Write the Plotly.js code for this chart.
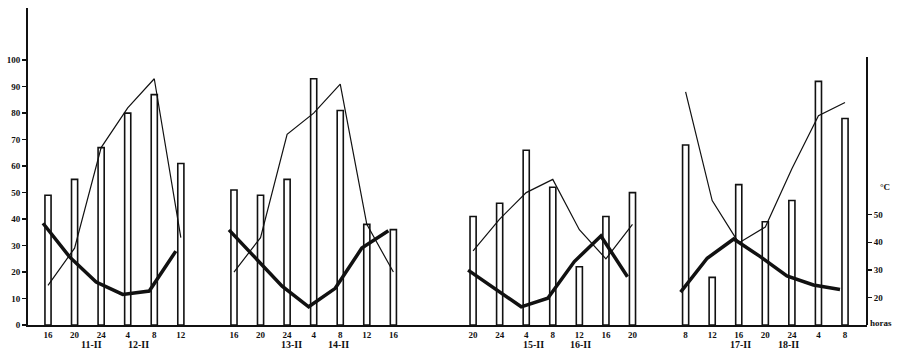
<!DOCTYPE html>
<html>
<head>
<meta charset="utf-8">
<script src="https://cdn.plot.ly/plotly-3.0.1.min.js"></script>
<style>html,body{margin:0;padding:0;background:#fff;}#chart{width:900px;height:358px;}</style>
</head>
<body>
<div id="chart"></div>
<script>
// Hours of each observation series (groups separated by gaps on the axis)
const hours1 = [16, 20, 24, 4, 8, 12];
const hours2 = [16, 20, 24, 4, 8, 12, 16];
const hours3 = [20, 24, 4, 8, 12, 16, 20];
const hours4 = [8, 12, 16, 20, 24, 4, 8];

// Bars (left scale)
const bars1 = [49, 55, 67, 80, 87, 61];
const bars2 = [51, 49, 55, 93, 81, 38, 36];
const bars3 = [41, 46, 66, 52, 22, 41, 50];
const bars4 = [68, 18, 53, 39, 47, 92, 78];

// Thin line (left scale)
const thin1 = [15, 29, 67, 82, 93, 33];
const thin2 = [20, 33, 72, 80, 91, 38, 20];
const thin3 = [28, 40, 50, 55, 36, 25, 38];
const thin4 = [88, 47, 31, 37, 59, 79, 84];

// Thick line (right scale, °C)
const thick1 = [46.9, 34.7, 25.6, 21.1, 22.3, 36.8];
const thick2 = [44.5, 34.3, 24.1, 16.6, 23.3, 37.9, 44.2];
const thick3 = [29.9, 23.2, 16.6, 19.7, 33.0, 42.3, 27.5];
const thick4 = [21.9, 34.2, 41.2, 34.8, 27.8, 24.5, 22.9];

// Date labels
const dateLabels = ['11-II', '12-II', '13-II', '14-II', '15-II', '16-II', '17-II', '18-II'];
const leftTicks = [0, 10, 20, 30, 40, 50, 60, 70, 80, 90, 100];
const rightTicks = [20, 30, 40, 50];

// ---- layout helpers ----
const groups = [
  {h: hours1, b: bars1, t: thin1, k: thick1},
  {h: hours2, b: bars2, t: thin2, k: thick2},
  {h: hours3, b: bars3, t: thin3, k: thick3},
  {h: hours4, b: bars4, t: thin4, k: thick4}
];
const gapAfter = [1, 2, 1, 0];   // empty slots between groups

let slot = 0;
const bx = [], by = [], lx = [], ly = [], kx = [], ky = [], tickv = [], tickt = [];
const groupStart = [];
groups.forEach((g, gi) => {
  groupStart.push(slot);
  g.h.forEach((hr, i) => {
    bx.push(slot); by.push(g.b[i]);
    lx.push(slot); ly.push(g.t[i]);
    kx.push(slot); ky.push(g.k[i]);
    tickv.push(slot); tickt.push(String(hr));
    slot++;
  });
  lx.push(slot - 0.5); ly.push(null);
  kx.push(slot - 0.5); ky.push(null);
  slot += gapAfter[gi];
});

const dateOffsets = [[1.64, 3.40], [2.17, 3.93], [2.26, 4.03], [2.08, 3.86]];
const annotations = [];
dateOffsets.forEach((pair, gi) => {
  pair.forEach((off, j) => {
    annotations.push({
      x: groupStart[gi] + off, xref: 'x', y: (325 - 344) / 317, yref: 'paper', yanchor: 'middle',
      text: dateLabels[gi * 2 + j], showarrow: false,
      font: {family: 'Liberation Serif, serif', size: 10, color: '#111', weight: 'bold'}
    });
  });
});
annotations.push({
  x: 1, xref: 'paper', xanchor: 'left', xshift: 11, y: (325 - 187) / 317, yref: 'paper',
  text: '°C', showarrow: false,
  font: {family: 'Liberation Serif, serif', size: 9, color: '#111', weight: 'bold'}
});
annotations.push({
  x: 1, xref: 'paper', xanchor: 'left', xshift: 1, y: (325 - 330) / 317, yref: 'paper',
  text: 'horas', showarrow: false,
  font: {family: 'Liberation Serif, serif', size: 9, color: '#111', weight: 'bold'}
});

const pxPerSlot = 26.567;
const xr = [-0.753, -0.753 + 839 / pxPerSlot];
const shift = 5 / pxPerSlot;

const traces = [
  {type: 'bar', x: bx, y: by, xaxis: 'x', yaxis: 'y', width: 0.23,
   marker: {color: '#fff', line: {color: '#111', width: 1.6}}, hoverinfo: 'skip'},
  {type: 'scatter', mode: 'lines', x: lx, y: ly, xaxis: 'x', yaxis: 'y',
   line: {color: '#111', width: 1.2}, connectgaps: false, hoverinfo: 'skip'},
  {type: 'scatter', mode: 'lines', x: kx, y: ky, xaxis: 'x2', yaxis: 'y2',
   line: {color: '#111', width: 3.5}, connectgaps: false, hoverinfo: 'skip'}
];

const tickFont = {family: 'Liberation Serif, serif', size: 9, color: '#111', weight: 'bold'};
const layout = {
  width: 900, height: 358,
  margin: {l: 28, r: 33, t: 8, b: 33},
  paper_bgcolor: '#fff', plot_bgcolor: '#fff',
  showlegend: false,
  bargap: 0,
  xaxis: {
    range: xr, showgrid: false, zeroline: false,
    showline: true, linecolor: '#111', linewidth: 2,
    tickmode: 'array', tickvals: tickv, ticktext: tickt,
    ticks: '', tickfont: {family: 'Liberation Serif, serif', size: 9, color: '#111', weight: 'bold'}
  },
  xaxis2: {
    range: [xr[0] + shift, xr[1] + shift], overlaying: 'x', visible: false
  },
  yaxis: {
    range: [0, 317 / 2.648], showgrid: false, zeroline: false,
    showline: true, linecolor: '#111', linewidth: 2,
    tickmode: 'array', tickvals: leftTicks,
    ticks: 'outside', ticklen: 4, tickwidth: 1.5, tickcolor: '#111',
    tickfont: tickFont
  },
  yaxis2: {
    range: [10, 10 + 317 / 2.757], overlaying: 'y', side: 'right',
    showgrid: false, zeroline: false, showline: false,
    tickmode: 'array', tickvals: rightTicks,
    ticks: 'outside', ticklen: 4, tickwidth: 1.5, tickcolor: '#111',
    tickfont: tickFont
  },
  shapes: [
    {type: 'line', xref: 'paper', yref: 'paper', x0: 1, x1: 1, y0: 0, y1: (325 - 57) / 317,
     line: {color: '#111', width: 2}}
  ],
  annotations: annotations
};

Plotly.newPlot('chart', traces, layout, {staticPlot: true, displayModeBar: false});
</script>
</body>
</html>
